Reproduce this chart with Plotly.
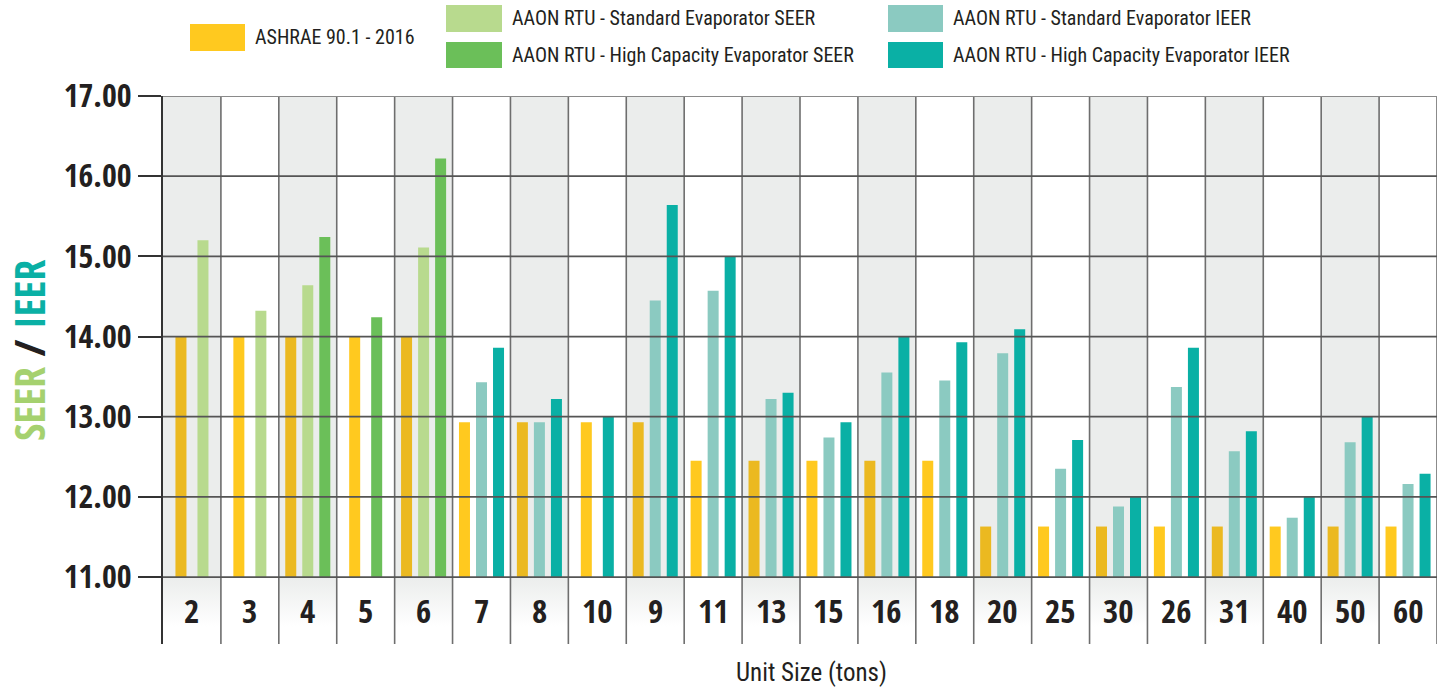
import plotly.graph_objects as go

# ---------------- data ----------------
categories = ["2", "3", "4", "5", "6", "7", "8", "10", "9", "11", "13", "15",
              "16", "18", "20", "25", "30", "26", "31", "40", "50", "60"]
ashrae = [14.0, 14.0, 14.0, 14.0, 14.0, 12.93, 12.93, 12.93, 12.93, 12.45, 12.45,
          12.45, 12.45, 12.45, 11.63, 11.63, 11.63, 11.63, 11.63, 11.63, 11.63, 11.63]
std_seer = [15.20, 14.32, 14.64, None, 15.11] + [None] * 17
hc_seer = [None, None, 15.24, 14.24, 16.22] + [None] * 17
std_ieer = [None] * 5 + [13.43, 12.93, None, 14.45, 14.57, 13.22, 12.74, 13.55, 13.45,
                         13.79, 12.35, 11.88, 13.37, 12.57, 11.74, 12.68, 12.16]
hc_ieer = [None] * 5 + [13.86, 13.22, 13.00, 15.64, 15.00, 13.30, 12.93, 14.00, 13.93,
                        14.09, 12.71, 12.01, 13.86, 12.82, 12.01, 13.00, 12.29]
series_names = ["ASHRAE 90.1 - 2016",
                "AAON RTU - Standard Evaporator SEER",
                "AAON RTU - High Capacity Evaporator SEER",
                "AAON RTU - Standard Evaporator IEER",
                "AAON RTU - High Capacity Evaporator IEER"]
y_ticks = [11, 12, 13, 14, 15, 16, 17]

# ---------------- styles ----------------
C_ASH = "#FFC91F"
C_ASH_SHADED = "#EBB920"
colors = [C_ASH, "#B8DA8E", "#6BBF59", "#8BCAC1", "#0AB0A5"]
SHADE = "#EBEDEC"
FONT_B = "Open Sans Condensed, Roboto Condensed, sans-serif"
FONT_R = "Roboto Condensed, sans-serif"
TXT = "#231F20"

W, H = 1439, 689
L, R, T, B = 163, 2, 96, 45
PW, PH = W - L - R, H - T - B
YMIN, YMAX = 10.165, 17
BASE = 11
BAR_W = 0.19
SP3, SP2 = 0.294, 0.38


def pxx(x):
    return (x - L) / PW


def pxy(y):
    return (H - B - y) / PH


all_series = [ashrae, std_seer, hc_seer, std_ieer, hc_ieer]
n_cat = len(categories)
offsets = [[None] * n_cat for _ in all_series]
for i in range(n_cat):
    present = [k for k, s in enumerate(all_series) if s[i] is not None]
    n = len(present)
    sp = SP3 if n == 3 else SP2
    for j, k in enumerate(present):
        offsets[k][i] = (j - (n - 1) / 2) * sp

fig = go.Figure()

# gradient in the label area for shaded columns
for i in range(0, n_cat, 2):
    fig.add_trace(go.Scatter(
        x=[i - 0.5, i + 0.5, i + 0.5, i - 0.5, i - 0.5],
        y=[YMIN, YMIN, BASE, BASE, YMIN],
        mode="lines", line=dict(width=0), fill="toself",
        fillgradient=dict(type="vertical", start=10.38, stop=BASE,
                          colorscale=[[0, "rgba(255,255,255,1)"], [1, SHADE]]),
        hoverinfo="skip", showlegend=False))

for k, s in enumerate(all_series):
    xs, ys, cs, txt = [], [], [], []
    for i, v in enumerate(s):
        if v is None:
            continue
        xs.append(i + offsets[k][i])
        ys.append(v - BASE)
        txt.append(f"{categories[i]}: {v:.2f}")
        if k == 0:
            cs.append(C_ASH_SHADED if i % 2 == 0 else C_ASH)
        else:
            cs.append(colors[k])
    fig.add_trace(go.Bar(
        x=xs, y=ys, base=BASE, width=BAR_W, marker=dict(color=cs, line=dict(width=0)),
        name=series_names[k], hovertext=txt, hoverinfo="text+name", showlegend=False))

shapes = []
for i in range(0, n_cat, 2):
    shapes.append(dict(type="rect", xref="x", yref="y", x0=i - 0.5, x1=i + 0.5,
                       y0=BASE, y1=YMAX, fillcolor=SHADE, line=dict(width=0), layer="below"))
for i in range(1, n_cat + 1):
    shapes.append(dict(type="line", xref="x", yref="y", x0=i - 0.5, x1=i - 0.5,
                       y0=YMIN, y1=YMAX, line=dict(color="#6E6E6E", width=1.6), layer="above"))
for t in y_ticks:
    shapes.append(dict(type="line", xref="x", yref="y", x0=-0.5, x1=n_cat - 0.5,
                       y0=t, y1=t, line=dict(color="#555555" if t != 17 else "#8A8A8A", width=1.8),
                       layer="above"))

# legend (manual)
legend_pos = [(190, 24, 245, 51), (446, 5, 502, 32), (446, 42, 502, 68),
              (888, 5, 943, 32), (888, 42, 943, 68)]
annotations = []
for k, (x0, y0, x1, y1) in enumerate(legend_pos):
    shapes.append(dict(type="rect", xref="paper", yref="paper",
                       x0=pxx(x0), x1=pxx(x1), y0=pxy(y1), y1=pxy(y0),
                       fillcolor=colors[k], line=dict(width=0)))
    annotations.append(dict(x=pxx(x1 + 8), y=pxy((y0 + y1) / 2), xref="paper", yref="paper",
                            text=series_names[k], showarrow=False, xanchor="left",
                            yanchor="middle", font=dict(family=FONT_R, size=20, color=TXT)))

# category labels
for i, c in enumerate(categories):
    annotations.append(dict(x=i, y=10.58, xref="x", yref="y", text=c, showarrow=False,
                            xanchor="center", yanchor="middle",
                            font=dict(family=FONT_B, size=33, color=TXT, weight="bold")))

annotations.append(dict(x=pxx(811), y=pxy(672), xref="paper", yref="paper",
                        text="Unit Size (tons)", showarrow=False, xanchor="center",
                        yanchor="middle", font=dict(family=FONT_R, size=25, color=TXT)))
annotations.append(dict(x=pxx(28), y=pxy(351), xref="paper", yref="paper",
                        text="<span style='color:#A5D16F'>SEER</span> / "
                             "<span style='color:#0AB0A5'>IEER</span>",
                        textangle=-90, showarrow=False, xanchor="center", yanchor="middle",
                        font=dict(family=FONT_B, size=42, color=TXT, weight="bold")))

fig.update_layout(
    width=W, height=H, margin=dict(l=L, r=R, t=T, b=B),
    paper_bgcolor="white", plot_bgcolor="white",
    barmode="overlay", showlegend=False,
    shapes=shapes, annotations=annotations,
    xaxis=dict(range=[-0.5, n_cat - 0.5], showticklabels=False, showgrid=False,
               zeroline=False, showline=False, fixedrange=True),
    yaxis=dict(range=[YMIN, YMAX], tickvals=y_ticks, ticktext=[f"{t:.2f}" for t in y_ticks],
               showgrid=False, zeroline=False, showline=True, linecolor="#333333", linewidth=2,
               ticks="outside", ticklen=23, tickwidth=2, tickcolor="#333333",
               tickfont=dict(family=FONT_B, size=32, color=TXT, weight="bold"),
               fixedrange=True),
)

fig.write_html("out.html", config={"displayModeBar": False},
               post_script="document.body.style.margin='0';document.body.style.overflow='hidden';")
